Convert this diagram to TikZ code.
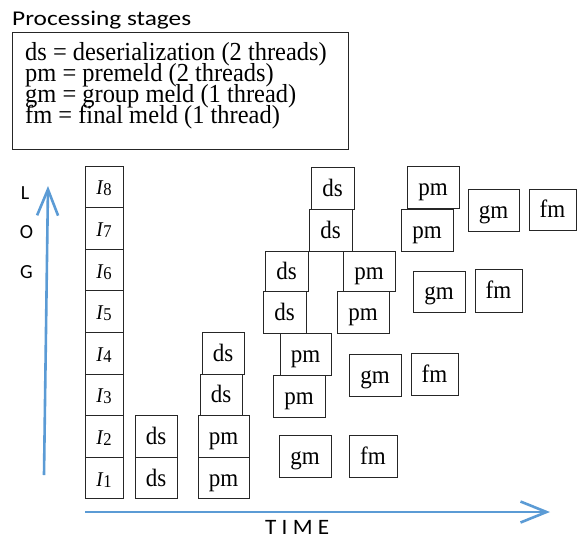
\documentclass[tikz,border=0pt]{standalone}
\usepackage{fontspec}
\setmainfont{Liberation Serif}
\newfontfamily\calib{Carlito}
\newfontfamily\boxfont{Liberation Serif}[FakeStretch=0.92]
\newfontfamily\legfont{Liberation Serif}[FakeStretch=0.94]
\usetikzlibrary{arrows.meta}
\definecolor{axisblue}{RGB}{91,155,213}
\newcommand{\ilab}[1]{{\fontsize{21}{21}\selectfont\textit{I}}{\boxfont\fontsize{18}{18}\selectfont\raisebox{-1pt}{#1}}}
\begin{document}
\begin{tikzpicture}[x=1pt,y=-1pt,
  stagebox/.style={draw=black!85, line width=1pt, inner sep=0pt,
    text height=16pt, text depth=0pt, font=\boxfont\fontsize{25}{25}\selectfont},
  ibox/.style={stagebox, minimum width=38pt, minimum height=41.6pt},
  legtext/.style={anchor=base west, inner sep=0pt, text height=15pt, text depth=5pt,
    font=\legfont\fontsize{26}{26}\selectfont},
  sanslab/.style={inner sep=0pt, font=\calib\fontsize{20}{20}\selectfont},
  axis/.style={draw=axisblue, line width=2.6pt,
    -{Straight Barb[length=26pt,width=21pt,line width=2.6pt]}}]
\useasboundingbox (0,0) rectangle (577,539);
% title and legend
\node[sanslab, anchor=base west, font=\calib\fontsize{21}{21}\selectfont] (title) at (12,25) {\resizebox{179pt}{\height}{Processing stages}};
\node[draw=black!85, line width=1pt, minimum width=336pt, minimum height=117pt, inner sep=0pt] (legend) at (180,90.5) {};
\node[legtext] (l1) at (25,60) {ds = deserialization (2 threads)};
\node[legtext] (l2) at (25,81) {pm = premeld (2 threads)};
\node[legtext] (l3) at (25,102) {gm = group meld (1 thread)};
\node[legtext] (l4) at (25,123) {fm = final meld (1 thread)};
% input column
\node[ibox] (i8) at (104,186.8) {\ilab{8}};
\node[ibox] (i7) at (104,228.4) {\ilab{7}};
\node[ibox] (i6) at (104,270.0) {\ilab{6}};
\node[ibox] (i5) at (104,311.6) {\ilab{5}};
\node[ibox] (i4) at (104,353.2) {\ilab{4}};
\node[ibox] (i3) at (104,394.8) {\ilab{3}};
\node[ibox] (i2) at (104,436.4) {\ilab{2}};
\node[ibox] (i1) at (104,478.0) {\ilab{1}};
% column 2
\node[stagebox, minimum width=42pt, minimum height=41.6pt] (ds2a) at (156,436.4) {ds};
\node[stagebox, minimum width=42pt, minimum height=41.6pt] (ds1a) at (156,478.0) {ds};
% column 3
\node[stagebox, minimum width=51pt, minimum height=41.6pt] (pm2) at (223.5,436.4) {pm};
\node[stagebox, minimum width=51pt, minimum height=41.6pt] (pm1) at (223.5,478.0) {pm};
\node[stagebox, minimum width=42pt, minimum height=41.6pt] (ds3) at (221,394.8) {ds};
\node[stagebox, minimum width=42pt, minimum height=41.6pt] (ds4) at (223,353.2) {ds};
% later ds
\node[stagebox, minimum width=43pt, minimum height=42pt] (ds8) at (332.5,188) {ds};
\node[stagebox, minimum width=43pt, minimum height=42pt] (ds7) at (330.5,230) {ds};
\node[stagebox, minimum width=43pt, minimum height=40pt] (ds6) at (286.5,271) {ds};
\node[stagebox, minimum width=43pt, minimum height=42pt] (ds5) at (284.5,312) {ds};
% later pm
\node[stagebox, minimum width=52pt, minimum height=40pt] (pm6) at (369,271) {pm};
\node[stagebox, minimum width=52pt, minimum height=42pt] (pm5) at (363,312) {pm};
\node[stagebox, minimum width=52pt, minimum height=42pt] (pm8) at (433,187) {pm};
\node[stagebox, minimum width=52pt, minimum height=42pt] (pm7) at (427,230) {pm};
\node[stagebox, minimum width=51pt, minimum height=42pt] (pm4) at (305.5,354) {pm};
\node[stagebox, minimum width=52pt, minimum height=42pt] (pm3) at (299,396) {pm};
% group and final melds
\node[stagebox, minimum width=51pt, minimum height=42pt] (gm4) at (493.5,210) {gm};
\node[stagebox, minimum width=47pt, minimum height=41pt] (fm4) at (552.5,209.5) {fm};
\node[stagebox, minimum width=52pt, minimum height=41pt] (gm3) at (439,291.5) {gm};
\node[stagebox, minimum width=47pt, minimum height=43pt] (fm3) at (498.5,290.5) {fm};
\node[stagebox, minimum width=52pt, minimum height=42pt] (gm2) at (375,375) {gm};
\node[stagebox, minimum width=47pt, minimum height=42pt] (fm2) at (434.5,374) {fm};
\node[stagebox, minimum width=52pt, minimum height=42pt] (gm1) at (305,456) {gm};
\node[stagebox, minimum width=48pt, minimum height=42pt] (fm1) at (373,456) {fm};
% axes
\coordinate (t0) at (85,512);
\coordinate (t1) at (550,512);
\draw[axis] (t0) -- (t1);
\coordinate (g0) at (44,475);
\coordinate (g1) at (48,186);
\draw[axis] (g0) -- (g1);
\node[sanslab, anchor=base] (lL) at (25,199) {L};
\node[sanslab, anchor=base] (lO) at (26.5,238) {O};
\node[sanslab, anchor=base] (lG) at (26.5,278) {G};
\node[sanslab, anchor=base west, font=\calib\fontsize{22}{22}\selectfont] (time) at (265,534.5) {\resizebox{64pt}{\height}{T I M E}};
\end{tikzpicture}
\end{document}
